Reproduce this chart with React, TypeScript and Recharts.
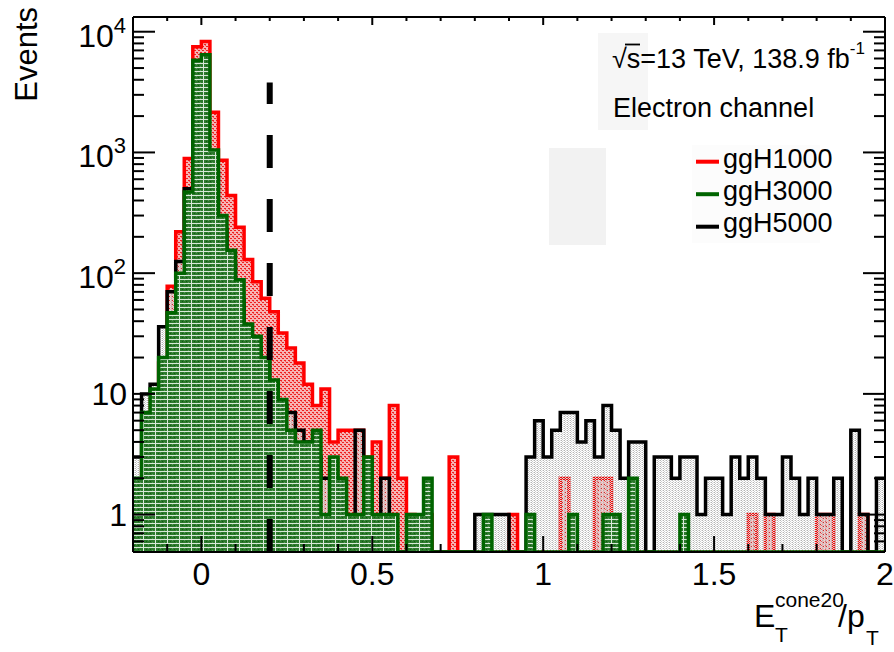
import React from 'react';
import { ComposedChart, Area, XAxis, YAxis, ReferenceLine } from 'recharts';

// Histogram binning: 88 bins of width 0.025 over [-0.2, 2.0]
const X_MIN = -0.2;
const X_MAX = 2.0;
const BIN_WIDTH = 0.025;
const Y_MIN = 0.49;
const Y_MAX = 13240;

// Event counts per bin
const ggH1000 = [
  1, 3, 9, 18, 78, 220, 890, 7500, 8300, 2150,
  860, 440, 240, 130, 85, 62, 48, 32, 24, 18,
  12, 8, 11, 4, 5, 5, 5, 3, 4, 2,
  8, 2, 1, 0, 1, 0, 0, 3, 0, 0,
  0, 0, 0, 0, 1, 0, 0, 0, 0, 0,
  2, 0, 0, 0, 2, 2, 0, 0, 1, 0,
  0, 0, 0, 0, 0, 0, 0, 0, 0, 0,
  0, 0, 1, 0, 1, 0, 0, 0, 0, 0,
  1, 1, 0, 0, 0, 1, 0, 0,
];

const ggH3000 = [
  2, 7, 11, 20, 47, 100, 470, 5800, 6450, 1050,
  300, 155, 88, 38, 30, 20, 13, 9, 5, 4,
  4, 5, 1, 3, 2, 1, 1, 3, 1, 1,
  1, 0, 1, 1, 2, 0, 0, 0, 0, 0,
  0, 1, 0, 0, 0, 0, 1, 0, 0, 0,
  0, 1, 0, 0, 0, 1, 1, 0, 2, 0,
  0, 0, 0, 0, 1, 0, 0, 0, 0, 0,
  0, 0, 0, 0, 0, 0, 0, 0, 0, 0,
  0, 0, 0, 0, 0, 0, 0, 0,
];

const ggH5000 = [
  3, 10, 12, 36, 70, 125, 500, 2300, 950, 680,
  230, 120, 60, 30, 24, 19, 12, 8, 7, 5,
  4, 3, 2, 2, 0, 0, 5, 0, 0, 2,
  0, 0, 0, 0, 0, 0, 0, 0, 0, 0,
  1, 1, 1, 1, 0, 0, 3, 6, 3, 5,
  7, 7, 4, 6, 3, 8, 5, 2, 4, 4,
  0, 3, 3, 2, 3, 3, 1, 2, 2, 1,
  3, 2, 3, 2, 1, 1, 3, 2, 1, 2,
  1, 1, 2, 0, 5, 1, 0, 2,
];

const seriesNames = ['ggH1000', 'ggH3000', 'ggH5000'];
const seriesColors = ['#ff0000', '#006400', '#000000'];

// Axis ticks
const xTicks = Array.from({ length: 23 }, (_, k) => Math.round(k - 2) / 10);
const yTicks: number[] = [];
[0.1, 1, 10, 100, 1000].forEach((d) => {
  for (let m = 1; m <= 9; m++) {
    const v = m * d;
    if (v > 0.55 && v <= Y_MAX) yTicks.push(v);
  }
});
yTicks.push(10000);

const CUT_VALUE = 0.2;
const CUT_TOP = 3800;

// Step-histogram table: one row per bin edge, last edge repeats the last bin
const table = Array.from({ length: ggH1000.length + 1 }, (_, i) => {
  const j = Math.min(i, ggH1000.length - 1);
  return {
    x: +(X_MIN + BIN_WIDTH * i).toFixed(3),
    h1000: Math.max(ggH1000[j], Y_MIN),
    h3000: Math.max(ggH3000[j], Y_MIN),
    h5000: Math.max(ggH5000[j], Y_MIN),
  };
});

const W = 894;
const H = 652;
const Y_AXIS_W = 60;
const X_AXIS_H = 40;
const PLOT_TOP = 17;
const PLOT_BOTTOM = 552;
const PLOT_LEFT = 133;
const PLOT_RIGHT = 885;
const MARGIN = {
  top: PLOT_TOP,
  right: W - PLOT_RIGHT,
  bottom: H - PLOT_BOTTOM - X_AXIS_H,
  left: PLOT_LEFT - Y_AXIS_W,
};
const FONT = '"Liberation Sans", Arial, Helvetica, sans-serif';

function XTick(props: any) {
  const { x, payload } = props;
  const v = payload.value as number;
  const major = Math.abs(v * 2 - Math.round(v * 2)) < 1e-6;
  return (
    <g>
      <line x1={x} x2={x} y1={PLOT_BOTTOM} y2={PLOT_BOTTOM - (major ? 16 : 8)} stroke="#000" strokeWidth={2} />
      <line x1={x} x2={x} y1={PLOT_TOP} y2={PLOT_TOP + (major ? 8 : 4)} stroke="#000" strokeWidth={2} />
      {major && (
        <text x={x} y={PLOT_BOTTOM + 33} textAnchor="middle" fontSize={32} fontFamily={FONT} fill="#000">
          {String(v)}
        </text>
      )}
    </g>
  );
}

function YTick(props: any) {
  const { y, payload } = props;
  const v = payload.value as number;
  const lg = Math.log10(v);
  const e = Math.round(lg);
  const major = Math.abs(lg - e) < 1e-6;
  const len = major ? 22 : 11;
  let label: React.ReactNode = null;
  if (major) {
    if (e === 0 || e === 1) {
      label = (
        <text x={PLOT_LEFT - 6} y={y + 11.5} textAnchor="end" fontSize={32} fontFamily={FONT} fill="#000">
          {e === 0 ? '1' : '10'}
        </text>
      );
    } else {
      label = (
        <text x={PLOT_LEFT - 7} y={y + 15} textAnchor="end" fontSize={32} fontFamily={FONT} fill="#000">
          10
          <tspan dy={-14} fontSize={22}>
            {e}
          </tspan>
        </text>
      );
    }
  }
  return (
    <g>
      <line x1={PLOT_LEFT} x2={PLOT_LEFT + len} y1={y} y2={y} stroke="#000" strokeWidth={2} />
      <line x1={PLOT_RIGHT} x2={PLOT_RIGHT - len} y1={y} y2={y} stroke="#000" strokeWidth={2} />
      {label}
    </g>
  );
}

export default function App() {
  return (
    <div style={{ position: 'absolute', left: 0, top: 0, width: W, height: H, background: '#fff' }}>
      <svg width={W} height={H} style={{ position: 'absolute', left: 0, top: 0 }}>
        <defs>
          <pattern id="fillRed" width="4" height="4" patternUnits="userSpaceOnUse">
            <rect width="4" height="4" fill="#f7b4b4" />
            <rect x="0" y="0" width="2" height="1" fill="#ee2020" />
            <rect x="2" y="2" width="2" height="1" fill="#ee2020" />
            <rect x="1" y="1" width="1" height="1" fill="#f26060" />
          </pattern>
          <pattern id="fillGreen" width="12" height="4" patternUnits="userSpaceOnUse">
            <rect width="12" height="4" fill="#2c7a2c" />
            <rect x="0" y="3" width="12" height="1" fill="#d8e8d8" />
            <rect x="11" y="0" width="1" height="4" fill="#d8e8d8" />
            <rect x="2" y="1" width="1" height="1" fill="#125a12" />
            <rect x="6" y="1" width="1" height="1" fill="#125a12" />
            <rect x="4" y="0" width="1" height="1" fill="#5a9a5a" />
            <rect x="8" y="2" width="1" height="1" fill="#5a9a5a" />
          </pattern>
          <pattern id="fillGrey" width="3" height="2" patternUnits="userSpaceOnUse">
            <rect x="0" y="0" width="1" height="1" fill="#b4b4b4" />
            <rect x="1" y="1" width="1" height="1" fill="#cfcfcf" />
            <rect x="2" y="0" width="1" height="1" fill="#e0e0e0" />
          </pattern>
        </defs>
        <rect x={549} y={148} width={57} height={97} fill="#f2f2f2" />
        <rect x={598} y={33} width={50} height={97} fill="#f6f6f6" />
        <rect x={692} y={145} width={128} height={98} fill="#fcfcfc" />
      </svg>

      <div style={{ position: 'absolute', left: 0, top: 0 }}>
        <ComposedChart width={W} height={H} data={table} margin={MARGIN}>
          <XAxis
            dataKey="x"
            type="number"
            domain={[X_MIN, X_MAX]}
            allowDataOverflow
            ticks={xTicks}
            interval={0}
            height={X_AXIS_H}
            tickSize={0}
            tickMargin={0}
            tickLine={false}
            axisLine={{ stroke: '#000', strokeWidth: 2 }}
            tick={(p: any) => <XTick {...p} />}
          />
          <YAxis
            type="number"
            scale="log"
            domain={[Y_MIN, Y_MAX]}
            allowDataOverflow
            ticks={yTicks}
            interval={0}
            width={Y_AXIS_W}
            tickSize={0}
            tickMargin={0}
            tickLine={false}
            axisLine={{ stroke: '#000', strokeWidth: 2 }}
            tick={(p: any) => <YTick {...p} />}
          />
          <Area
            type="stepAfter"
            dataKey="h1000"
            name={seriesNames[0]}
            stroke={seriesColors[0]}
            strokeWidth={3.5}
            fill="url(#fillRed)"
            fillOpacity={1}
            baseValue={Y_MIN}
            dot={false}
            activeDot={false}
            isAnimationActive={false}
          />
          <Area
            type="stepAfter"
            dataKey="h5000"
            name={seriesNames[2]}
            stroke={seriesColors[2]}
            strokeWidth={3.5}
            fill="url(#fillGrey)"
            fillOpacity={1}
            baseValue={Y_MIN}
            dot={false}
            activeDot={false}
            isAnimationActive={false}
          />
          <Area
            type="stepAfter"
            dataKey="h3000"
            name={seriesNames[1]}
            stroke={seriesColors[1]}
            strokeWidth={3.5}
            fill="url(#fillGreen)"
            fillOpacity={1}
            baseValue={Y_MIN}
            dot={false}
            activeDot={false}
            isAnimationActive={false}
          />
          <ReferenceLine
            segment={[
              { x: CUT_VALUE, y: Y_MIN },
              { x: CUT_VALUE, y: CUT_TOP },
            ]}
            stroke="#000"
            strokeWidth={6}
            strokeDasharray="33 31"
          />
          <ReferenceLine y={Y_MAX} stroke="#000" strokeWidth={2} />
          <ReferenceLine x={X_MAX} stroke="#000" strokeWidth={2} />
        </ComposedChart>
      </div>

      <svg
        width={W}
        height={H}
        style={{ position: 'absolute', left: 0, top: 0, pointerEvents: 'none' }}
        fontFamily={FONT}
      >
        <text transform="translate(37,7) rotate(-90)" textAnchor="end" fontSize={31} fill="#000">
          Events
        </text>

        <text x={754} y={627} fontSize={32} fill="#000">E</text>
        <text x={775} y={607} fontSize={21} fill="#000">cone20</text>
        <text x={775} y={642} fontSize={21} fill="#000">T</text>
        <text x={838} y={627} fontSize={32} fill="#000">/p</text>
        <text x={866} y={645} fontSize={21} fill="#000">T</text>

        <text x={612} y={68} fontSize={27} fill="#000">
          √s=13 TeV, 138.9 fb
          <tspan dy={-14} fontSize={17}>-1</tspan>
        </text>
        <line x1={625} x2={640} y1={44.5} y2={44.5} stroke="#000" strokeWidth={1.8} />
        <text x={613} y={117} fontSize={27} fill="#000">Electron channel</text>

        {seriesNames.map((name, i) => (
          <g key={name}>
            <line
              x1={696}
              x2={719}
              y1={161.7 + i * 32.5}
              y2={161.7 + i * 32.5}
              stroke={seriesColors[i]}
              strokeWidth={4}
            />
            <text x={723} y={168.3 + i * 32} fontSize={27} fill="#000">
              {name}
            </text>
          </g>
        ))}
      </svg>
    </div>
  );
}
